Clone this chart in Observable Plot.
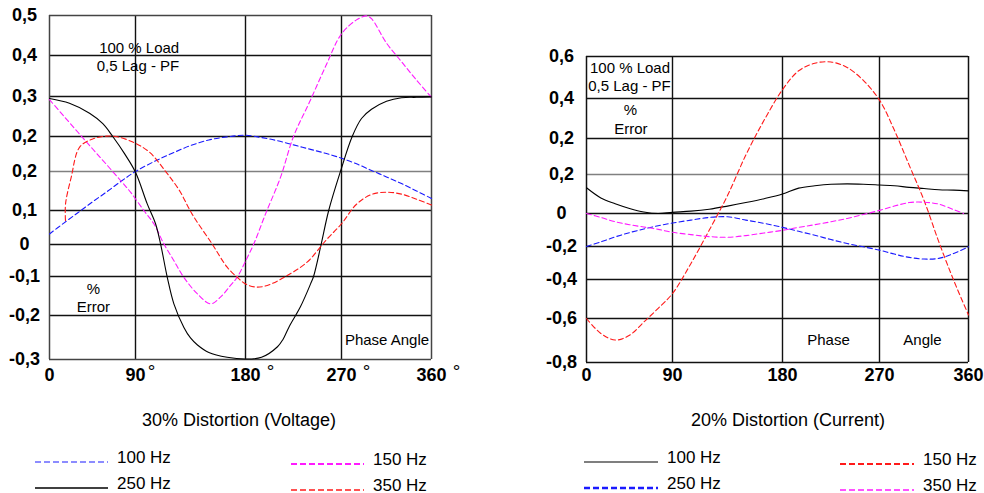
<!DOCTYPE html>
<html>
<head>
<meta charset="utf-8">
<script src="https://cdn.jsdelivr.net/npm/d3@7"></script>
<script src="https://cdn.jsdelivr.net/npm/@observablehq/plot@0.6"></script>
<style>
  body { margin: 0; background: #fff; }
  #wrap { position: relative; width: 984px; height: 493px; background: #fff; overflow: hidden;
          font-family: "Liberation Sans", Arial, sans-serif; color: #000; }
  #left, #right, #overlay { position: absolute; top: 0; }
  #left { left: 0; } #right { left: 492px; } #overlay { left: 0; }
</style>
</head>
<body>
<div id="wrap">
  <div id="left"></div>
  <div id="right"></div>
  <svg id="overlay" width="984" height="493"></svg>
</div>
<script>
// ---------------- DATA ----------------
// Phase angle ticks (degrees)
const xTicks = [0, 90, 180, 270, 360];
const leftXLabels = ["0", "90", "180", "270", "360"];
const leftXSuffix = ["", "°", "°", "°", "°"];
const rightXLabels = ["0", "90", "180", "270", "360"];

// Y tick labels, listed from the bottom grid line (level 0) upward, as printed
const leftYLabels = ["-0,3", "-0,2", "-0,1", "0", "0,1", "0,2", "0,2", "0,3", "0,4", "0,5"];
const rightYLabels = ["-0,8", "-0,6", "-0,4", "-0,2", "0", "0,2", "0,2", "0,4", "0,6"];

// Sample angles (degrees)
const angles = [0, 15, 30, 45, 60, 75, 90, 105, 120, 135, 150, 165, 180,
                195, 210, 225, 240, 255, 270, 285, 300, 315, 330, 345, 360];

// 30% Distortion (Voltage) — values in grid-line units (0 = "-0,3" line ... 9 = "0,5" line)
const volt100 = [3.31, 3.63, 3.94, 4.22, 4.48, 4.75, 5.0, 5.28, 5.52, 5.74, 5.90, 5.99, 6.03,
                 5.97, 5.88, 5.76, 5.64, 5.52, 5.38, 5.22, 5.03, 4.86, 4.69, 4.50, 4.31];
const volt150Angles = [0, 15, 30, 45, 60, 75, 84.8, 96.8, 105, 113.2, 121.3, 129.5, 140.5, 151.4,
                       159.5, 167.7, 173.2, 180.3, 187.8, 198.8, 212.8, 225, 240, 255, 270, 285,
                       295, 300, 315, 330, 345, 360];
const volt150 = [6.92, 6.51, 6.10, 5.65, 5.19, 4.75, 4.47, 4.00, 3.61, 3.02, 2.50, 1.98, 1.56, 1.30,
                 1.47, 1.77, 1.98, 2.50, 3.02, 3.90, 4.85, 6.00, 6.86, 7.73, 8.54, 8.89,
                 8.99, 8.92, 8.31, 7.85, 7.40, 6.98];
const volt250Angles = [0, 20.9, 41.9, 55.8, 66.2, 78.5, 90, 99.6, 106.4, 110.5, 116, 121.4, 129.6, 135,
                       140.7, 150, 165, 180, 195, 210, 215, 220.6, 231.6, 241, 243.8, 250.9, 258, 269,
                       280.7, 290, 300, 315, 330, 345, 360];
const volt250 = [6.95, 6.83, 6.58, 6.32, 6.00, 5.51, 4.98, 4.17, 3.61, 3.02, 1.98, 1.30, 0.73, 0.49,
                 0.33, 0.16, 0.05, 0.01, 0.05, 0.29, 0.45, 0.73, 1.23, 1.81, 2.00, 3.00, 4.00, 5.00,
                 6.00, 6.45, 6.68, 6.88, 6.97, 6.98, 6.99];
const volt350Angles = [16.7, 16.8, 22.7, 31.4, 45.3, 66.2, 87.2, 101.5, 114, 126, 136.2, 152.6, 165,
                       173.2, 180, 189.4, 200.4, 219.1, 237.8, 255, 270, 285, 300, 315, 330, 345, 360];
const volt350 = [3.71, 4.17, 4.85, 5.69, 5.93, 6.01, 5.84, 5.55, 5.03, 4.51, 3.90, 3.02, 2.29,
                 1.98, 1.81, 1.73, 1.77, 2.03, 2.45, 3.11, 3.61, 4.16, 4.41, 4.47, 4.42, 4.29, 4.14];

// 20% Distortion (Current) — values in grid-line units (0 = "-0,8" line ... 8 = "0,6" line)
const curr100 = [4.66, 4.40, 4.25, 4.13, 4.04, 4.00, 4.03, 4.06, 4.11, 4.19, 4.28, 4.38, 4.50,
                 4.65, 4.71, 4.75, 4.76, 4.75, 4.73, 4.71, 4.67, 4.64, 4.61, 4.60, 4.58];
const curr150 = [1.00, 0.66, 0.51, 0.62, 0.92, 1.26, 1.64, 2.48, 3.49, 4.46, 5.54, 6.46, 7.21,
                 7.66, 7.84, 7.87, 7.74, 7.43, 6.96, 6.21, 5.26, 4.34, 3.14, 1.98, 1.09];
const curr250 = [3.00, 3.14, 3.29, 3.42, 3.53, 3.63, 3.71, 3.80, 3.88, 3.90, 3.80, 3.70, 3.58,
                 3.46, 3.34, 3.21, 3.09, 2.99, 2.89, 2.77, 2.67, 2.62, 2.64, 2.79, 2.99];
const curr350Angles = [0, 15, 30, 45, 60, 75, 90, 105, 120, 135, 150, 165, 180,
                       195, 210, 225, 240, 255, 270, 285, 300, 315, 330, 345, 355];
const curr350 = [4.00, 3.88, 3.75, 3.66, 3.59, 3.52, 3.43, 3.36, 3.30, 3.28, 3.33, 3.41, 3.49,
                 3.58, 3.66, 3.75, 3.85, 3.97, 4.08, 4.19, 4.28, 4.29, 4.24, 4.10, 4.00];

// Annotations (angle, grid level)
const leftNotes = [
  {angle: 93, level: 8.18, label: "100 % Load"},
  {angle: 92, level: 7.73, label: "0,5 Lag - PF"},
  {angle: 46, level: 1.67, label: "%"},
  {angle: 46, level: 1.21, label: "Error"},
  {angle: 315.5, level: 0.43, label: "Phase Angle"}
];
const rightNotes = [
  {angle: 45.5, level: 7.71, label: "100 % Load"},
  {angle: 45, level: 7.29, label: "0,5 Lag - PF"},
  {angle: 46, level: 6.70, label: "%"},
  {angle: 46.5, level: 6.23, label: "Error"},
  {angle: 222.7, level: 0.5, label: "Phase"},
  {angle: 313.5, level: 0.5, label: "Angle"}
];

const leftTitle = "30% Distortion (Voltage)";
const rightTitle = "20% Distortion (Current)";
const leftSeriesNames = ["100 Hz", "150 Hz", "250 Hz", "350 Hz"];
const rightSeriesNames = ["100 Hz", "150 Hz", "250 Hz", "350 Hz"];

// ---------------- STYLES / LAYOUT ----------------
const FONT = '"Liberation Sans", Arial, sans-serif';
const BLUE = "#1a1aff", RED = "#ff1a1a", MAG = "#ff1aff", BLK = "#000";
const leftStyle = {
  "100 Hz": {stroke: BLUE, dash: "5,3", w: 1.1, lw: 1.2},
  "150 Hz": {stroke: MAG, dash: "5,3", w: 1.1, lw: 2.2},
  "250 Hz": {stroke: BLK, dash: null, w: 1.1, lw: 1.6},
  "350 Hz": {stroke: RED, dash: "5,3", w: 1.1, lw: 1.6}
};
const rightStyle = {
  "100 Hz": {stroke: BLK, dash: null, w: 1.1, lw: 1.2},
  "150 Hz": {stroke: RED, dash: "5,3", w: 1.1, lw: 2.2},
  "250 Hz": {stroke: BLUE, dash: "5,3", w: 1.1, lw: 2.6},
  "350 Hz": {stroke: MAG, dash: "5,3", w: 1.1, lw: 1.3}
};

function rows(as, vs, name) { return as.map((a, i) => ({angle: a, level: vs[i], series: name})); }

function lineMark(data, st) {
  const o = {x: "angle", y: "level", stroke: st.stroke, strokeWidth: st.w, curve: "catmull-rom"};
  if (st.dash) o.strokeDasharray = st.dash;
  return Plot.line(data, o);
}

function panel(cfg) {
  const levels = d3.range(cfg.yLabels.length);
  const top = levels.length - 1;
  const inner = levels.slice(1, top);
  const marks = [
    Plot.ruleY(inner, {y: d => d, x1: 0, x2: 360,
      stroke: d => cfg.greyLevels.includes(d) ? "#808080" : "#111", strokeWidth: 1.4}),
    Plot.ruleX([90, 180, 270], {x: d => d, y1: 0, y2: top, stroke: "#111", strokeWidth: 1.4}),
    Plot.ruleY([0, top], {y: d => d, x1: 0, x2: 360, stroke: cfg.frameColor, strokeWidth: 1.5}),
    Plot.ruleX([0, 360], {x: d => d, y1: 0, y2: top, stroke: cfg.frameColor, strokeWidth: 1.5}),
    ...cfg.series.map(s => lineMark(s.data, s.style)),
    Plot.text(levels, {y: d => d, text: d => cfg.yLabels[d], frameAnchor: "left", dx: -25,
      textAnchor: "middle", fontSize: 18, fontWeight: "bold"}),
    Plot.text(xTicks, {x: d => d, text: (d, i) => cfg.xLabels[i], frameAnchor: "bottom",
      dy: cfg.xLabelDy, textAnchor: "middle", fontSize: 18, fontWeight: "bold"}),
    Plot.text(cfg.notes, {x: "angle", y: "level", text: "label", fontSize: 15, textAnchor: "middle"})
  ];
  if (cfg.suffix) {
    const idx = d3.range(xTicks.length).filter(i => cfg.suffix[i]);
    const two = idx.filter(i => cfg.xLabels[i].length === 2);
    const three = idx.filter(i => cfg.xLabels[i].length === 3);
    marks.push(Plot.text(two, {x: i => xTicks[i], text: i => cfg.suffix[i], frameAnchor: "bottom",
      dy: cfg.xLabelDy - 3, dx: 16, fontSize: 19, textAnchor: "middle"}));
    marks.push(Plot.text(three, {x: i => xTicks[i], text: i => cfg.suffix[i], frameAnchor: "bottom",
      dy: cfg.xLabelDy - 3, dx: 25, fontSize: 19, textAnchor: "middle"}));
  }
  return Plot.plot({
    width: 492, height: 400,
    marginLeft: cfg.xRange[0], marginRight: 492 - cfg.xRange[cfg.xRange.length - 1],
    marginTop: cfg.yRange[cfg.yRange.length - 1], marginBottom: 400 - cfg.yRange[0],
    style: {fontFamily: FONT, background: "transparent", overflow: "visible", color: "#000"},
    x: {type: "linear", domain: xTicks, range: cfg.xRange, axis: null},
    y: {type: "linear", domain: levels, range: cfg.yRange, axis: null},
    marks
  });
}

const leftChart = panel({
  yLabels: leftYLabels, xLabels: leftXLabels, suffix: leftXSuffix,
  xRange: [49, 135, 245, 341, 431],
  yRange: [359, 315, 276, 244, 210, 171, 136, 96, 55, 15],
  greyLevels: [5], frameColor: "#444", xLabelDy: 21, notes: leftNotes,
  series: [
    {data: rows(angles, volt100, "100 Hz"), style: leftStyle["100 Hz"]},
    {data: rows(volt150Angles, volt150, "150 Hz"), style: leftStyle["150 Hz"]},
    {data: rows(volt250Angles, volt250, "250 Hz"), style: leftStyle["250 Hz"]},
    {data: rows(volt350Angles, volt350, "350 Hz"), style: leftStyle["350 Hz"]}
  ]
});
const rightChart = panel({
  yLabels: rightYLabels, xLabels: rightXLabels, suffix: null,
  xRange: [94, 180, 290, 387, 476],
  yRange: [362, 318, 279, 246, 213, 174, 138, 98, 56],
  greyLevels: [5], frameColor: "#111", xLabelDy: 18, notes: rightNotes,
  series: [
    {data: rows(angles, curr100, "100 Hz"), style: rightStyle["100 Hz"]},
    {data: rows(angles, curr150, "150 Hz"), style: rightStyle["150 Hz"]},
    {data: rows(angles, curr250, "250 Hz"), style: rightStyle["250 Hz"]},
    {data: rows(curr350Angles, curr350, "350 Hz"), style: rightStyle["350 Hz"]}
  ]
});
document.getElementById("left").appendChild(leftChart);
document.getElementById("right").appendChild(rightChart);

// ---------------- TITLES & LEGENDS ----------------
const ov = d3.select("#overlay").style("font-family", FONT);
ov.append("text").attr("x", 239).attr("y", 420).attr("text-anchor", "middle")
  .attr("dominant-baseline", "central").attr("font-size", 18).text(leftTitle);
ov.append("text").attr("x", 788).attr("y", 420).attr("text-anchor", "middle")
  .attr("dominant-baseline", "central").attr("font-size", 18).text(rightTitle);

function legend(names, styles, cols, rowsY) {
  names.forEach((n, i) => {
    const c = cols[i % 2], y = rowsY[Math.floor(i / 2)];
    const st = styles[n];
    const ln = ov.append("line").attr("x1", c.x1).attr("x2", c.x2).attr("y1", y + c.dy).attr("y2", y + c.dy)
      .attr("stroke", st.stroke).attr("stroke-width", st.lw);
    if (st.dash) ln.attr("stroke-dasharray", "6,3");
    ov.append("text").attr("x", c.tx).attr("y", y - 5 + c.dy).attr("dominant-baseline", "central")
      .attr("font-size", 17).text(n);
  });
}
// names ordered row-major: row1 col1, row1 col2, row2 col1, row2 col2
legend(leftSeriesNames, leftStyle,
  [{x1: 35, x2: 108, tx: 117, dy: 0}, {x1: 291, x2: 364, tx: 373, dy: 2}], [462, 488]);
legend(rightSeriesNames, rightStyle,
  [{x1: 584, x2: 658, tx: 667, dy: 0}, {x1: 840, x2: 914, tx: 923, dy: 2}], [462, 488]);
</script>
</body>
</html>
